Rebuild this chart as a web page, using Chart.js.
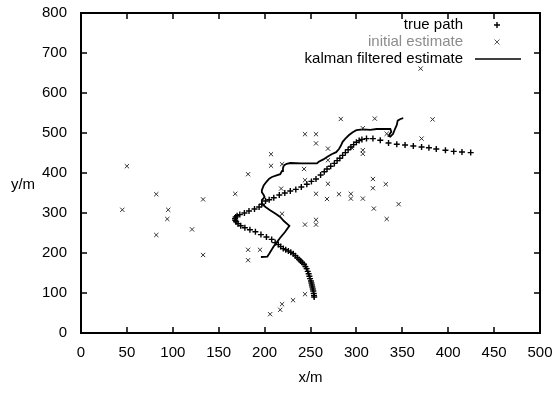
<!DOCTYPE html>
<html>
<head>
<meta charset="utf-8">
<script src="https://cdn.jsdelivr.net/npm/chart.js@4.4.0/dist/chart.umd.min.js"></script>
<style>
    html, body { margin: 0; padding: 0; background: #fff; }
    #wrap { width: 559px; height: 393px; }
</style>
</head>
<body>
<div id="wrap"><canvas id="kalmanChart" width="559" height="393"></canvas></div>
<script>
// === DATA ===
const legendLabels = ["true path", "initial estimate", "kalman filtered estimate"];
const xTickValues = [0, 50, 100, 150, 200, 250, 300, 350, 400, 450, 500];
const yTickValues = [0, 100, 200, 300, 400, 500, 600, 700, 800];
const xTitle = "x/m";
const yTitle = "y/m";

// true path, from the start (bottom) to the end (right)
const truePath = [
    [254, 90], [253.8, 94], [253.5, 99], [253, 105], [252.5, 110], [252, 115],
    [251.5, 120], [251, 125], [250.5, 130], [249.5, 136], [248.8, 142], [248, 148],
    [247, 154], [245.8, 161], [244.5, 166], [243, 172], [241, 176], [239.3, 180],
    [237.5, 184], [235.7, 188], [233.5, 193], [231.3, 198], [228.5, 202], [225.9, 205],
    [223, 208], [220.4, 211], [217.5, 216], [215, 221], [211.5, 226], [207.7, 234],
    [202, 240], [196, 246], [190, 253], [184, 258], [178.5, 263], [174, 268],
    [171, 273], [169, 278], [168, 282], [167.8, 286], [168.5, 290], [170, 293],
    [173, 296], [178, 300], [183, 305], [189, 310], [194, 315], [197, 322],
    [201, 330], [205, 333], [210, 338], [216, 345], [222, 350], [228, 355],
    [234, 359], [240, 365], [246, 372], [251, 379], [256, 385], [261, 395],
    [265, 403], [268, 410], [272, 417], [276, 424], [279, 431], [282, 437],
    [285, 444], [288, 451], [291, 458], [294, 465], [297, 471], [300, 477],
    [303, 481], [306, 484], [311, 486], [318, 486], [326, 482], [335, 475],
    [344, 472], [353, 470], [362, 467.5], [371, 465], [379, 463], [387, 460],
    [397, 457], [406, 454], [415, 452.5], [424.5, 451]
];

// initial (noisy) estimates
const initialEstimate = [
    [370, 661], [283, 535], [320, 536], [383, 534], [244, 497], [256, 497],
    [256, 474], [307, 512], [333, 498], [371, 486], [269, 461], [307, 457],
    [307, 448], [207, 447], [207, 418], [219, 422], [182, 397], [243, 410],
    [269, 432], [295, 463], [244, 382], [269, 373], [318, 385], [332, 372],
    [318, 362], [218, 361], [168, 348], [256, 348], [281, 347], [294, 348],
    [294, 336], [268, 335], [307, 336], [346, 322], [319, 311], [133, 334],
    [82, 347], [45, 308], [95, 308], [94, 285], [121, 259], [82, 245],
    [133, 195], [219, 298], [244, 271], [256, 283], [256, 271], [333, 285],
    [182, 208], [195, 208], [182, 182], [244, 97], [231, 82], [219, 72],
    [217, 58], [206, 47], [50, 417]
];

// kalman filtered estimate, in time order
const kalmanEstimate = [
    [196, 190], [203, 191], [205, 198], [209.5, 215], [213, 226], [217, 238],
    [222, 252], [227, 268], [221, 280], [217, 290], [212, 298], [206, 307],
    [201, 315], [197, 323], [197, 332], [200, 340], [199, 345], [197, 352],
    [197, 357], [199, 369], [202, 378], [205, 386], [208, 390], [213, 394],
    [217, 397], [219, 405], [220, 412], [221, 419], [224, 423], [228, 425],
    [240, 424], [250, 424], [257, 424], [259, 428], [264, 434], [268, 440],
    [273, 447], [278, 452], [281, 460], [283, 468], [285, 478], [288, 486],
    [292, 495], [296, 502], [300, 507], [307, 509], [315, 508], [322, 510],
    [330, 510], [337, 510], [338, 503], [335, 493], [337, 491], [340, 498],
    [342, 510], [344, 520], [345, 531], [348, 535], [351, 537]
];

const toXY = (arr) => arr.map(([x, y]) => ({ x, y }));

// === STYLE ===
const FONT = "'Liberation Sans', Arial, Helvetica, sans-serif";
Chart.defaults.font.family = FONT;
Chart.defaults.font.size = 15;
Chart.defaults.color = "#000";

// frame + inward ticks on all four sides (gnuplot look), key, y label
const framePlugin = {
    id: "frame",
    afterDraw(chart) {
        const g = chart.ctx;
        const sx = chart.scales.x;
        const sy = chart.scales.y;
        const left = Math.round(sx.getPixelForValue(0));
        const right = Math.round(sx.getPixelForValue(500));
        const top = Math.round(sy.getPixelForValue(800));
        const bottom = Math.round(sy.getPixelForValue(0));
        const tl = 6;

        g.save();
        g.strokeStyle = "#000";
        g.lineWidth = 2;
        g.strokeRect(left, top, right - left, bottom - top);

        g.lineWidth = 1.5;
        g.beginPath();
        xTickValues.forEach((v) => {
            const px = Math.round(sx.getPixelForValue(v));
            g.moveTo(px, bottom);
            g.lineTo(px, bottom - tl);
            g.moveTo(px, top);
            g.lineTo(px, top + tl);
        });
        yTickValues.forEach((v) => {
            const py = Math.round(sy.getPixelForValue(v));
            g.moveTo(left, py);
            g.lineTo(left + tl, py);
            g.moveTo(right, py);
            g.lineTo(right - tl, py);
        });
        g.stroke();

        g.font = "15px " + FONT;
        g.textBaseline = "middle";

        // horizontal y label
        g.fillStyle = "#000";
        g.textAlign = "center";
        g.fillText(yTitle, 23, 185);

        // key, text right aligned, sample to the right
        const textX = 463;
        const sampleX = 497;
        const rows = [25, 42, 59];
        g.textAlign = "right";
        legendLabels.forEach((label, i) => {
            g.fillStyle = i === 1 ? "#8c8c8c" : "#000";
            g.fillText(label, textX, rows[i]);
        });
        g.strokeStyle = "#000";
        g.lineWidth = 1.4;
        g.beginPath();
        g.moveTo(sampleX - 3, rows[0]);
        g.lineTo(sampleX + 3, rows[0]);
        g.moveTo(sampleX, rows[0] - 3);
        g.lineTo(sampleX, rows[0] + 3);
        g.stroke();
        g.strokeStyle = "#555";
        g.lineWidth = 1;
        g.beginPath();
        g.moveTo(sampleX - 2.5, rows[1] - 2.5);
        g.lineTo(sampleX + 2.5, rows[1] + 2.5);
        g.moveTo(sampleX + 2.5, rows[1] - 2.5);
        g.lineTo(sampleX - 2.5, rows[1] + 2.5);
        g.stroke();
        g.strokeStyle = "#000";
        g.lineWidth = 1.6;
        g.beginPath();
        g.moveTo(475, rows[2]);
        g.lineTo(521, rows[2]);
        g.stroke();
        g.restore();
    },
};

const canvasCtx = document.getElementById("kalmanChart").getContext("2d");
new Chart(canvasCtx, {
    type: "scatter",
    data: {
        datasets: [
            {
                label: legendLabels[0],
                data: toXY(truePath),
                pointStyle: "cross",
                pointRadius: 3,
                borderColor: "#000",
                borderWidth: 1.4,
            },
            {
                label: legendLabels[1],
                data: toXY(initialEstimate),
                pointStyle: "crossRot",
                pointRadius: 3,
                borderColor: "#333",
                borderWidth: 1,
            },
            {
                label: legendLabels[2],
                data: toXY(kalmanEstimate),
                showLine: true,
                pointRadius: 0,
                borderColor: "#000",
                borderWidth: 1.8,
                tension: 0,
            },
        ],
    },
    options: {
        responsive: false,
        animation: false,
        devicePixelRatio: 1,
        layout: { padding: { top: 13, right: 19, left: 0, bottom: 0 } },
        plugins: {
            legend: { display: false },
            tooltip: { enabled: false },
        },
        scales: {
            x: {
                type: "linear",
                min: 0,
                max: 500,
                afterBuildTicks: (s) => { s.ticks = xTickValues.map((v) => ({ value: v })); },
                afterFit: (s) => {
                    s.height = 60;
                    s.paddingLeft = 0;
                    s.paddingRight = 0;
                },
                grid: { display: false, drawTicks: false },
                border: { display: false },
                ticks: { padding: 11, color: "#000" },
                title: {
                    display: true,
                    text: xTitle,
                    padding: { top: 0, bottom: 6 },
                },
            },
            y: {
                type: "linear",
                min: 0,
                max: 800,
                afterBuildTicks: (s) => { s.ticks = yTickValues.map((v) => ({ value: v })); },
                afterFit: (s) => {
                    s.width = 81;
                    s.paddingTop = 0;
                    s.paddingBottom = 0;
                },
                grid: { display: false, drawTicks: false },
                border: { display: false },
                ticks: { padding: 14, color: "#000" },
            },
        },
    },
    plugins: [framePlugin],
});
</script>
</body>
</html>
